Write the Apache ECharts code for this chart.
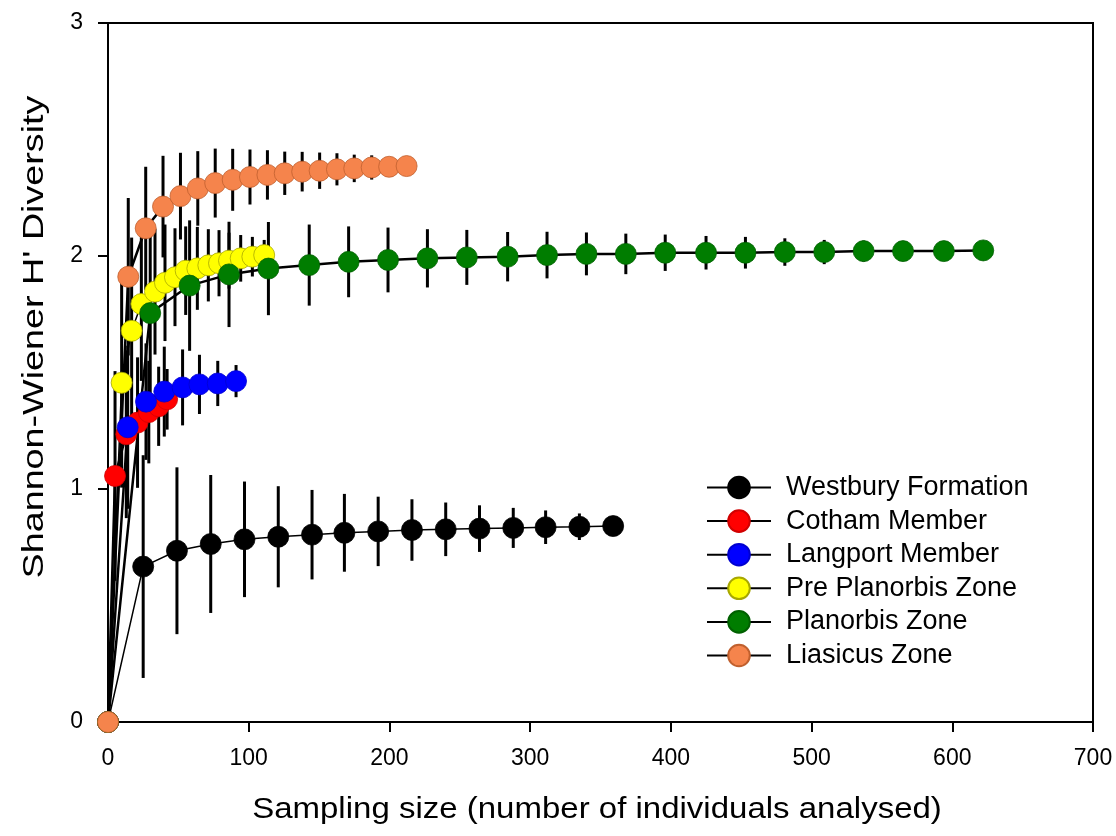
<!DOCTYPE html>
<html>
<head>
<meta charset="utf-8">
<script src="https://cdn.jsdelivr.net/npm/echarts@6/dist/echarts.min.js"></script>
<style>
html,body{margin:0;padding:0;background:#fff;}
#chart{width:1116px;height:836px;}
</style>
</head>
<body>
<div id="chart"></div>
<script>
// ---- Data ----
const seriesNames = ['Westbury Formation','Cotham Member','Langport Member','Pre Planorbis Zone','Planorbis Zone','Liasicus Zone'];
const xTitle = 'Sampling size (number of individuals analysed)';
const yTitle = "Shannon-Wiener H' Diversity";

const xWestbury  = [0, 25, 49, 73, 97, 121, 145, 168, 192, 216, 240, 264, 288, 311, 335, 359];
const hWestbury  = [0, 0.667, 0.735, 0.764, 0.784, 0.795, 0.804, 0.812, 0.818, 0.824, 0.827, 0.830, 0.833, 0.836, 0.838, 0.841];
const sdWestbury = [0, 0.478, 0.358, 0.296, 0.248, 0.217, 0.192, 0.167, 0.149, 0.132, 0.115, 0.100, 0.086, 0.072, 0.057, 0];

const xCotham  = [0, 5, 13, 21, 29, 36, 42];
const hCotham  = [0, 1.056, 1.235, 1.285, 1.330, 1.355, 1.385];
const sdCotham = [0, 0.45, 0.36, 0.28, 0.22, 0.17, 0.13];

const xLangport  = [0, 14, 27, 40, 53, 65, 78, 91];
const hLangport  = [0, 1.265, 1.375, 1.418, 1.436, 1.449, 1.453, 1.463];
const sdLangport = [0, 0.35, 0.25, 0.193, 0.163, 0.127, 0.097, 0.069];

const xPrePlanorbis  = [0, 9.7, 16.8, 23.7, 33.4, 40.5, 47.6, 55.2, 63.5, 71.3, 78.9, 86, 94.3, 102.6, 111];
const hPrePlanorbis  = [0, 1.456, 1.679, 1.794, 1.847, 1.885, 1.909, 1.937, 1.947, 1.960, 1.969, 1.980, 1.990, 1.997, 2.004];
const sdPrePlanorbis = [0, 0.45, 0.40, 0.33, 0.27, 0.25, 0.21, 0.19, 0.178, 0.155, 0.142, 0.12, 0.10, 0.085, 0.065];

const xPlanorbis  = [0, 30, 58, 86, 114, 143, 171, 199, 227, 255, 284, 312, 340, 368, 396, 425, 453, 481, 509, 537, 565, 594, 622];
const hPlanorbis  = [0, 1.755, 1.873, 1.921, 1.946, 1.961, 1.975, 1.983, 1.990, 1.994, 1.997, 2.004, 2.009, 2.009, 2.014, 2.014, 2.014, 2.017, 2.017, 2.021, 2.021, 2.021, 2.024];
const sdPlanorbis = [0, 0.40, 0.28, 0.226, 0.20, 0.174, 0.152, 0.139, 0.125, 0.118, 0.106, 0.100, 0.092, 0.087, 0.078, 0.072, 0.068, 0.059, 0.052, 0.045, 0.03, 0.015, 0];

const xLiasicus  = [0, 14.4, 26.8, 39.1, 51.5, 63.8, 76.2, 88.6, 100.9, 113.3, 125.6, 138, 150.4, 162.7, 175, 187.4, 199.8, 212.2];
const hLiasicus  = [0, 1.911, 2.119, 2.212, 2.257, 2.290, 2.313, 2.327, 2.339, 2.348, 2.355, 2.362, 2.366, 2.372, 2.376, 2.380, 2.383, 2.386];
const sdLiasicus = [0, 0.338, 0.264, 0.218, 0.186, 0.16, 0.148, 0.133, 0.118, 0.106, 0.093, 0.085, 0.078, 0.069, 0.059, 0.052, 0.025, 0];

const xTicks = [0, 100, 200, 300, 400, 500, 600, 700];
const yTicks = [0, 1, 2, 3];

// ---- Styles ----
const groups = [
  {x: xWestbury, h: hWestbury, sd: sdWestbury, color: '#000000', border: '#000000', lw: 1.5},
  {x: xCotham, h: hCotham, sd: sdCotham, color: '#ff0000', border: '#d00000', lw: 2.5},
  {x: xLangport, h: hLangport, sd: sdLangport, color: '#0000ff', border: '#0000d0', lw: 2.5},
  {x: xPrePlanorbis, h: hPrePlanorbis, sd: sdPrePlanorbis, color: '#ffff00', border: '#a8a800', lw: 1.5},
  {x: xPlanorbis, h: hPlanorbis, sd: sdPlanorbis, color: '#007d00', border: '#006000', lw: 2.5},
  {x: xLiasicus, h: hLiasicus, sd: sdLiasicus, color: '#f5844c', border: '#c0602e', lw: 2.5}
];

const FONT = "'Liberation Sans', Arial, sans-serif";

function errRender(params, api) {
  const x = api.value(0), y = api.value(1), sd = api.value(2);
  if (!sd) return null;
  const p1 = api.coord([x, y - sd]);
  const p2 = api.coord([x, y + sd]);
  return {
    type: 'line',
    shape: {x1: p1[0], y1: p1[1], x2: p2[0], y2: p2[1]},
    style: {stroke: '#000', lineWidth: 3}
  };
}

const series = [];
groups.forEach((g, i) => {
  series.push({
    name: seriesNames[i] + ' SD',
    type: 'custom',
    renderItem: errRender,
    data: g.x.map((v, k) => [v, g.h[k], g.sd[k]]),
    encode: {x: 0, y: 1},
    silent: true,
    z: 2
  });
  series.push({
    name: seriesNames[i],
    type: 'line',
    data: g.x.map((v, k) => [v, g.h[k]]),
    symbol: 'circle',
    symbolSize: 21,
    showAllSymbol: true,
    lineStyle: {color: '#000', width: g.lw},
    itemStyle: {color: g.color, borderColor: g.border, borderWidth: 0.8},
    z: 2
  });
});

const chart = echarts.init(document.getElementById('chart'));
chart.setOption({
  animation: false,
  backgroundColor: '#fff',
  grid: {left: 108, right: 23, top: 23, bottom: 114, show: true, borderColor: '#000', borderWidth: 2, backgroundColor: 'transparent'},
  graphic: [
    {
      type: 'text', x: 35, y: 337, rotation: Math.PI / 2, scaleX: 1.3, scaleY: 1,
      style: {text: yTitle, font: "29px 'Liberation Sans', Arial, sans-serif", fill: '#000', align: 'center', verticalAlign: 'middle'}
    },
    {
      type: 'text', x: 597, y: 810, scaleX: 1.1, scaleY: 1,
      style: {text: xTitle, font: "30px 'Liberation Sans', Arial, sans-serif", fill: '#000', align: 'center', verticalAlign: 'middle'}
    }
  ],
  legend: {
    data: seriesNames,
    orient: 'vertical',
    left: 706,
    top: 474,
    padding: 0,
    itemWidth: 64,
    itemHeight: 27,
    itemGap: 6.6,
    textStyle: {fontFamily: FONT, fontSize: 27, color: '#000', lineHeight: 27, padding: [0, 0, 0, 10]}
  },
  xAxis: {
    type: 'value',
    min: xTicks[0],
    max: xTicks[xTicks.length - 1],
    interval: 100,
    axisLine: {show: true, lineStyle: {color: '#000', width: 2}},
    axisTick: {show: true, inside: false, length: 10, lineStyle: {color: '#000', width: 2}},
    axisLabel: {fontFamily: FONT, fontSize: 23, color: '#000', margin: 25},
    splitLine: {show: false}
  },
  yAxis: {
    type: 'value',
    min: yTicks[0],
    max: yTicks[yTicks.length - 1],
    interval: 1,
    axisLine: {show: true, lineStyle: {color: '#000', width: 2}},
    axisTick: {show: true, inside: false, length: 10, lineStyle: {color: '#000', width: 2}},
    axisLabel: {fontFamily: FONT, fontSize: 23, color: '#000', margin: 25},
    splitLine: {show: false}
  },
  series: series
});
</script>
</body>
</html>
